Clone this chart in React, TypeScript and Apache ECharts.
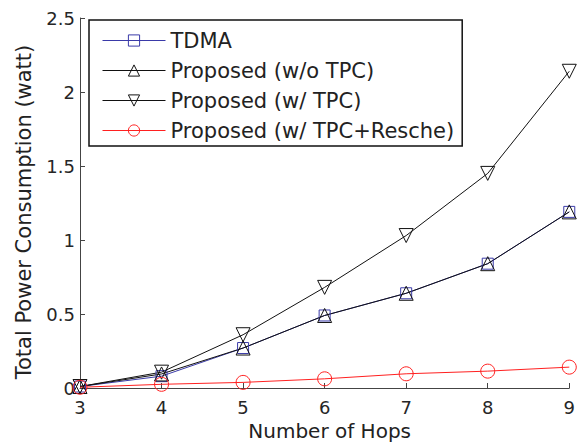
import React, { useEffect, useRef } from "react";
import * as echarts from "echarts";

const hops = [3, 4, 5, 6, 7, 8, 9];
const tdma = [0.01, 0.08, 0.27, 0.49, 0.64, 0.84, 1.19];
const woTpc = [0.01, 0.095, 0.27, 0.49, 0.64, 0.84, 1.19];
const wTpc = [0.01, 0.107, 0.36, 0.68, 1.03, 1.45, 2.14];
const resche = [0.005, 0.025, 0.038, 0.062, 0.096, 0.114, 0.141];
const seriesNames = [
  "TDMA",
  "Proposed (w/o TPC)",
  "Proposed (w/ TPC)",
  "Proposed (w/ TPC+Resche)",
];

const FONT = "DejaVu Sans";

function pts(ys: number[]) {
  return hops.map((x, i) => [x, ys[i]]);
}

export default function App() {
  const ref = useRef<HTMLDivElement>(null);
  useEffect(() => {
    if (!ref.current) return;
    const chart = echarts.init(ref.current, undefined, { renderer: "svg" });
    const mk = (
      name: string,
      ys: number[],
      color: string,
      symbol: string,
      size: number,
      rotate = 0
    ) => ({
      name,
      type: "line",
      data: pts(ys),
      symbol,
      symbolSize: size,
      symbolRotate: rotate,
      showAllSymbol: true,
      clip: false,
      lineStyle: { color, width: 1 },
      itemStyle: { color: "rgba(0,0,0,0)", borderColor: color, borderWidth: 1 },
      emphasis: { disabled: true },
    });
    chart.setOption({
      animation: false,
      backgroundColor: "#ffffff",
      grid: { left: 80, right: 8, top: 18, bottom: 55 },
      legend: {
        orient: "vertical",
        left: 89,
        top: 20,
        padding: [10, 8, 5, 13],
        itemWidth: 63,
        itemHeight: 14,
        itemGap: 9,
        borderColor: "#111",
        borderWidth: 1.5,
        backgroundColor: "#fff",
        data: seriesNames,
        lineStyle: { width: 1 },
        itemStyle: { borderWidth: 1 },
        textStyle: {
          fontFamily: FONT,
          fontSize: 21,
          lineHeight: 20,
          color: "#222",
        },
      },
      xAxis: {
        type: "value",
        min: 3,
        max: 9,
        interval: 1,
        name: "Number of Hops",
        nameLocation: "middle",
        nameGap: 33,
        nameTextStyle: { fontFamily: FONT, fontSize: 20, color: "#222", padding: [0, 0, 0, 10] },
        axisLine: { lineStyle: { color: "#444", width: 1 } },
        axisTick: { inside: true, length: 5, lineStyle: { color: "#444" } },
        axisLabel: { fontFamily: FONT, fontSize: 18, color: "#262626", margin: 10 },
        splitLine: { show: false },
      },
      yAxis: {
        type: "value",
        min: 0,
        max: 2.5,
        interval: 0.5,
        name: "Total Power Consumption (watt)",
        nameLocation: "middle",
        nameGap: 46,
        nameTextStyle: { fontFamily: FONT, fontSize: 21, color: "#222", padding: [0, 0, 0, -18] },
        axisLine: { show: true, lineStyle: { color: "#444", width: 1 } },
        axisTick: { show: true, inside: true, length: 5, lineStyle: { color: "#444" } },
        axisLabel: { fontFamily: FONT, fontSize: 18, color: "#262626", margin: 5 },
        splitLine: { show: false },
      },
      series: [
        mk(seriesNames[0], tdma, "#3a3aa8", "rect", 11),
        mk(seriesNames[1], woTpc, "#111111", "triangle", 14),
        mk(seriesNames[2], wTpc, "#111111", "triangle", 14, 180),
        mk(seriesNames[3], resche, "#ff2020", "circle", 14),
      ],
    });
    return () => chart.dispose();
  }, []);
  return (
    <div
      ref={ref}
      style={{ position: "fixed", left: 0, top: 0, width: 578, height: 446 }}
    />
  );
}
